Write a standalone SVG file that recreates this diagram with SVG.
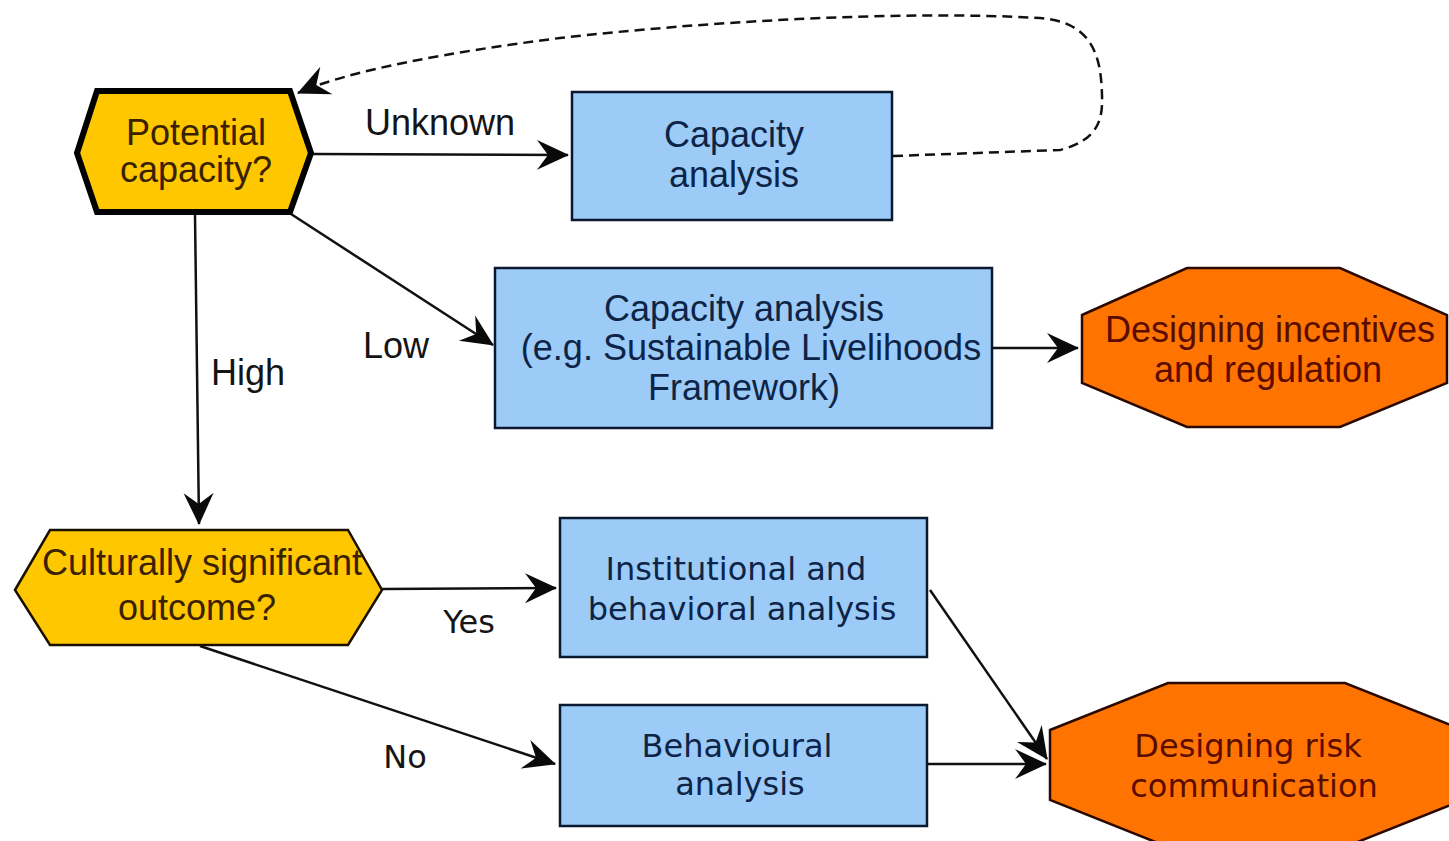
<svg xmlns="http://www.w3.org/2000/svg" width="1449" height="841" viewBox="0 0 1449 841">
<style>
.lib{font-family:"Liberation Sans",Arial,sans-serif;font-size:36px;text-anchor:middle}
.dv{font-family:"DejaVu Sans",Verdana,sans-serif;font-size:32px;text-anchor:middle}
.box{fill:#9ccbf8;stroke:#0a1830;stroke-width:2.5}
.btxt{fill:#0d2447}
.ytxt{fill:#3a2200}
.otxt{fill:#5a0c00}
.lbl{fill:#151515}
.conn{fill:none;stroke:#111;stroke-width:2.5}
</style>
<defs>
<marker id="ah" viewBox="0 0 32 32" refX="31" refY="16" markerWidth="32" markerHeight="32" markerUnits="userSpaceOnUse" orient="auto">
<path d="M0,1 L32,16 L0,31 L11,16 Z" fill="#0a0a0a"/>
</marker>
</defs>
<rect width="1449" height="841" fill="#ffffff"/>

<g id="connectors">
<line class="conn" x1="312" y1="154" x2="568" y2="155" marker-end="url(#ah)"/>
<line class="conn" x1="291" y1="214" x2="493" y2="345" marker-end="url(#ah)"/>
<line class="conn" x1="195" y1="215" x2="199" y2="524" marker-end="url(#ah)"/>
<line class="conn" x1="993" y1="348" x2="1078" y2="348" marker-end="url(#ah)"/>
<line class="conn" x1="382" y1="589" x2="556" y2="588" marker-end="url(#ah)"/>
<line class="conn" x1="200" y1="646" x2="555" y2="764" marker-end="url(#ah)"/>
<line class="conn" x1="930" y1="590" x2="1047" y2="759" marker-end="url(#ah)"/>
<line class="conn" x1="928" y1="764" x2="1046" y2="764" marker-end="url(#ah)"/>
<path class="conn" stroke-width="2" stroke-dasharray="10,6" d="M893,156 L1060,150 C1098,140 1103,120 1102,95 C1101,60 1095,22 1040,18 C900,10 700,22 560,38 C450,52 350,70 298,93" marker-end="url(#ah)"/>
</g>

<g id="n_potential">
<polygon points="77,153 97,91 290,91 311,153 290,212 97,212" fill="#ffc700" stroke="#000" stroke-width="6" stroke-linejoin="miter"/>
<text class="lib ytxt" x="196" y="145">Potential</text>
<text class="lib ytxt" x="196" y="182">capacity?</text>
</g>

<g id="n_capacity">
<rect class="box" x="572" y="92" width="320" height="128"/>
<text class="lib btxt" x="734" y="147">Capacity</text>
<text class="lib btxt" x="734" y="187">analysis</text>
</g>

<g id="n_capacity_slf">
<rect class="box" x="495" y="268" width="497" height="160"/>
<text class="lib btxt" x="744" y="321">Capacity analysis</text>
<text class="lib btxt" x="751" y="360">(e.g. Sustainable Livelihoods</text>
<text class="lib btxt" x="744" y="400">Framework)</text>
</g>

<g id="n_incentives">
<polygon points="1082,315 1187,268 1340,268 1447,315 1447,383 1340,427 1187,427 1082,383" fill="#ff7400" stroke="#2a0a00" stroke-width="2.5"/>
<text class="lib otxt" x="1270" y="342">Designing incentives</text>
<text class="lib otxt" x="1268" y="382">and regulation</text>
</g>

<g id="n_cultural">
<polygon points="15,590 50,530 348,530 382,590 348,645 50,645" fill="#ffc700" stroke="#1a1000" stroke-width="2.5"/>
<text class="lib ytxt" x="202" y="575">Culturally significant</text>
<text class="lib ytxt" x="197" y="620">outcome?</text>
</g>

<g id="n_institutional">
<rect class="box" x="560" y="518" width="367" height="139"/>
<text class="dv btxt" x="736" y="580">Institutional and</text>
<text class="dv btxt" x="742" y="620">behavioral analysis</text>
</g>

<g id="n_behavioural">
<rect class="box" x="560" y="705" width="367" height="121"/>
<text class="dv btxt" x="737" y="757" font-size="31">Behavioural</text>
<text class="dv btxt" x="740" y="795" font-size="31">analysis</text>
</g>

<g id="n_risk">
<polygon points="1050,730 1168,683 1345,683 1463,730 1463,800 1345,847 1168,847 1050,800" fill="#ff7400" stroke="#2a0a00" stroke-width="2.5"/>
<text class="dv otxt" x="1248" y="757">Designing risk</text>
<text class="dv otxt" x="1254" y="797">communication</text>
</g>

<g id="labels">
<text class="lib lbl" x="440" y="135">Unknown</text>
<text class="lib lbl" x="396" y="358">Low</text>
<text class="lib lbl" x="248" y="385">High</text>
<text class="dv lbl" x="469" y="633">Yes</text>
<text class="dv lbl" x="405" y="768">No</text>
</g>
</svg>
